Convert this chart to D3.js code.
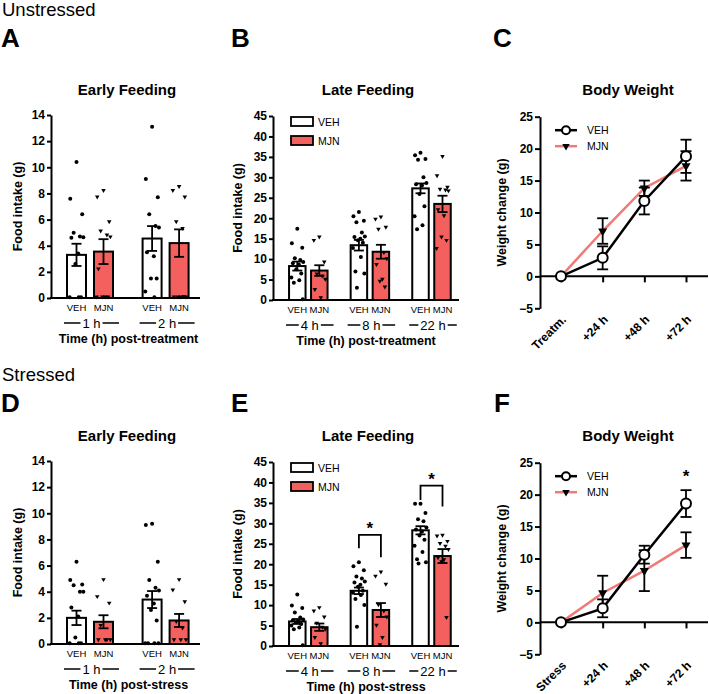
<!DOCTYPE html>
<html><head><meta charset="utf-8">
<script src="https://cdn.jsdelivr.net/npm/d3@7"></script>
<style>body{margin:0;background:#fff} svg{display:block} text{font-family:"Liberation Sans",Arial,sans-serif;fill:#000}</style>
</head><body><svg id="c" width="709" height="694"></svg>
<script>
// ---------- data ----------
const groups = ["VEH", "MJN"];
const earlyTimes = ["1 h", "2 h"];
const lateTimes = ["4 h", "8 h", "22 h"];
const earlyTicks = [0, 2, 4, 6, 8, 10, 12, 14];
const lateTicks = [0, 5, 10, 15, 20, 25, 30, 35, 40, 45];
const weightTicks = [-5, 0, 5, 10, 15, 20, 25];
const weightCatsUnstressed = ["Treatm.", "+24 h", "+48 h", "+72 h"];
const weightCatsStressed = ["Stress", "+24 h", "+48 h", "+72 h"];

// A: unstressed early feeding (VEH 1h, MJN 1h, VEH 2h, MJN 2h)
const aMeans = [3.3, 3.55, 4.55, 4.2];
const aSems = [0.85, 0.95, 0.95, 1.05];
const aDots = [
  [10.4, 7.6, 6.4, 5.0, 4.7, 4.65, 4.6, 3.4, 2.6, 0.05, 0.05, 0.05],
  [8.2, 7.7, 5.8, 5.1, 4.8, 4.65, 2.2, 0.05, 0.05, 0.05, 0.05],
  [13.1, 9.1, 7.7, 6.4, 5.5, 5.4, 3.5, 3.2, 1.5, 1.5, 0.5, 0.05],
  [8.5, 8.2, 7.7, 5.8, 5.3, 0.05, 0.05, 0.05, 0.05, 0.1]
];
// B: unstressed late feeding (VEH/MJN at 4h, 8h, 22h)
const bMeans = [8.3, 7.2, 13.4, 11.8, 27.3, 23.5];
const bSems = [1.1, 1.3, 1.3, 1.7, 1.2, 2.0];
const bDots = [
  [17.4, 13.9, 12.8, 10.2, 9.8, 9.3, 9.0, 8.7, 7.5, 6.5, 5.5, 4.8, 4.2, 0.2],
  [15.3, 14.5, 9.2, 6.3, 5.8, 5.0, 2.5, 0.5],
  [21.5, 20.5, 19.4, 19.0, 16.5, 15.5, 15.4, 15.0, 14.6, 14.0, 12.7, 10.5, 7.0, 6.5, 3.0],
  [20.2, 19.7, 17.7, 17.2, 11.5, 10.0, 8.6, 5.0, 4.5, 3.1],
  [36.0, 35.4, 34.5, 34.3, 30.0, 28.6, 28.3, 28.0, 25.9, 22.9, 20.5, 18.3, 17.3],
  [35.0, 30.3, 27.5, 27.0, 26.8, 26.6, 22.0, 20.5, 15.3, 14.5, 12.5]
];
// C: unstressed body weight
const cVeh = [0, 2.9, 11.8, 18.8];
const cVehSem = [0, 1.8, 2.1, 2.6];
const cMjn = [0, 7.1, 13.8, 17.3];
const cMjnSem = [0, 2.0, 1.2, 2.3];

// D: stressed early feeding
const dMeans = [2.0, 1.7, 3.4, 1.8];
const dSems = [0.55, 0.5, 0.65, 0.5];
const dDots = [
  [6.3, 4.9, 4.55, 4.5, 4.0, 4.0, 2.8, 2.1, 0.5, 0.05, 0.05, 0.05],
  [4.9, 3.6, 3.1, 1.4, 0.3, 0.3, 0.3, 0.3],
  [9.2, 9.1, 6.3, 4.9, 4.3, 4.1, 3.7, 3.1, 2.6, 1.8, 0.05, 0.05, 0.05, 0.05],
  [4.9, 4.1, 3.2, 1.7, 1.2, 0.3, 0.3, 0.3]
];
// E: stressed late feeding
const eMeans = [6.0, 4.6, 13.5, 8.8, 28.3, 22.0];
const eSems = [0.6, 0.9, 0.8, 1.7, 1.0, 1.7];
const eDots = [
  [12.6, 9.9, 9.3, 8.2, 7.0, 6.5, 6.3, 6.0, 5.8, 5.4, 5.0, 4.5, 4.1, 0.2],
  [9.3, 8.5, 7.0, 5.5, 4.5, 4.0, 2.0, 0.5],
  [20.5, 19.5, 18.5, 17.0, 16.5, 15.8, 15.5, 15.0, 14.5, 13.5, 13.0, 12.5, 11.5, 10.0, 4.7],
  [18.0, 17.0, 15.0, 10.0, 8.5, 7.0, 5.0, 2.0, 0.2],
  [34.8, 34.8, 32.5, 31.0, 30.5, 29.0, 28.5, 28.0, 27.0, 26.0, 24.5, 23.0, 21.2, 20.5, 20.2],
  [27.0, 26.8, 25.5, 25.0, 24.3, 23.5, 21.5, 21.0, 20.5, 6.9]
];
// significance brackets in E: [time index, top, left leg end, right leg end]
const eBrackets = [[1, 27.2, 23.9, 21.7], [2, 39.2, 35.7, 34.1]];
// F: stressed body weight
const fVeh = [0, 2.2, 10.6, 18.6];
const fVehSem = [0, 1.4, 1.4, 2.1];
const fMjn = [0, 4.6, 8.1, 12.1];
const fMjnSem = [0, 2.7, 3.2, 2.0];
const fStar = [3, 21.9];

// ---------- drawing ----------
const RED = "#f4605e";
const LINE_RED = "#f07a77";
const svg = d3.select("#c");

function txt(x, y, s, size, weight, anchor) {
  return svg.append("text").attr("x", x).attr("y", y).text(s)
    .style("font-size", size + "px").style("font-weight", weight || "normal")
    .attr("text-anchor", anchor || "start");
}

const jit = [0, -0.55, 0.5, -0.25, 0.3, 0.6, -0.45, 0.15, -0.1, 0.4, -0.6, 0.2, -0.35, 0.55, -0.2];

function barPanel(cfg) {
  const g = svg.append("g");
  const y = d3.scaleLinear().domain([0, cfg.yMax]).range([cfg.yBottom, cfg.yTop]);
  const x = d3.scaleLinear().domain([0, 1]).range([cfg.c0, cfg.c0 + cfg.unit]);
  const slot = i => Math.floor(i / 2) * cfg.gap + (i % 2);
  // bars
  cfg.means.forEach((m, i) => {
    const cx = x(slot(i));
    g.append("rect").attr("x", cx - cfg.barW / 2).attr("y", y(m))
      .attr("width", cfg.barW).attr("height", y(0) - y(m))
      .attr("fill", i % 2 ? RED : "#fff").attr("stroke", "#000").attr("stroke-width", 2);
  });
  // dots
  cfg.dots.forEach((arr, i) => {
    const cx = x(slot(i));
    arr.forEach((v, k) => {
      const px = cx + jit[k % jit.length] * cfg.barW * 0.6;
      if (i % 2 === 0) {
        g.append("circle").attr("cx", px).attr("cy", y(v)).attr("r", 2).attr("fill", "#000");
      } else {
        g.append("path").attr("d", d3.symbol(d3.symbolTriangle, 9)())
          .attr("transform", `translate(${px},${y(v) - 0.5}) rotate(180)`).attr("fill", "#000");
      }
    });
  });
  // error bars
  cfg.means.forEach((m, i) => {
    const cx = x(slot(i)), s = cfg.sems[i];
    g.append("line").attr("x1", cx).attr("x2", cx).attr("y1", y(m + s)).attr("y2", y(m - s))
      .attr("stroke", "#000").attr("stroke-width", 1.8);
    [m + s, m - s].forEach(v => g.append("line").attr("x1", cx - 5).attr("x2", cx + 5)
      .attr("y1", y(v)).attr("y2", y(v)).attr("stroke", "#000").attr("stroke-width", 1.8));
  });
  // axes
  const ax = g.append("g").attr("transform", `translate(${cfg.axisX},0)`)
    .call(d3.axisLeft(y).tickValues(cfg.ticks).tickSize(4).tickSizeOuter(0).tickPadding(2));
  ax.select(".domain").attr("stroke-width", 2);
  ax.selectAll(".tick line").attr("stroke-width", 2);
  ax.selectAll(".tick text").style("font-size", "12px").style("font-weight", "bold")
    .style("font-family", '"Liberation Sans",Arial,sans-serif');
  g.append("line").attr("x1", cfg.axisX - 1).attr("x2", cfg.axisEnd).attr("y1", y(0)).attr("y2", y(0))
    .attr("stroke", "#000").attr("stroke-width", 2);
  // category labels
  cfg.means.forEach((m, i) => {
    txt(x(slot(i)), y(0) + 13, groups[i % 2], 9.5, "normal", "middle");
  });
  cfg.times.forEach((t, j) => {
    const l = x(slot(2 * j)) - cfg.barW / 2 - 3, r = x(slot(2 * j + 1)) + cfg.barW / 2 + 6;
    const c = (l + r) / 2;
    const tt = txt(c, y(0) + 30, t, 13, "normal", "middle");
    const w = tt.node().getComputedTextLength();
    g.append("line").attr("x1", l).attr("x2", c - w / 2 - 2).attr("y1", y(0) + 25).attr("y2", y(0) + 25)
      .attr("stroke", "#000").attr("stroke-width", 1.5);
    g.append("line").attr("x1", c + w / 2 + 2).attr("x2", r).attr("y1", y(0) + 25).attr("y2", y(0) + 25)
      .attr("stroke", "#000").attr("stroke-width", 1.5);
  });
  txt((cfg.axisX + cfg.axisEnd) / 2 + cfg.xtOff, y(0) + 45, cfg.xTitle, 12.5, "bold", "middle");
  txt(cfg.titleX, cfg.titleY, cfg.title, 15, "bold", "middle");
  svg.append("text").attr("transform", `translate(${cfg.ylabX},${(cfg.yTop + cfg.yBottom) / 2}) rotate(-90)`)
    .attr("text-anchor", "middle").style("font-size", "12.5px").style("font-weight", "bold").text("Food intake (g)");
  if (cfg.legend) {
    groups.forEach((gname, i) => {
      const ly = cfg.yTop + 1 + i * 19;
      g.append("rect").attr("x", cfg.axisX + 18).attr("y", ly).attr("width", 22).attr("height", 9)
        .attr("fill", i ? RED : "#fff").attr("stroke", "#000").attr("stroke-width", 1.8);
      txt(cfg.axisX + 45, ly + 9, gname, 10.5, "normal", "start");
    });
  }
  if (cfg.brackets) {
    cfg.brackets.forEach(b => {
      const xl = x(slot(2 * b[0])), xr = x(slot(2 * b[0] + 1));
      g.append("path").attr("d", `M${xl},${y(b[2])}V${y(b[1])}H${xr}V${y(b[3])}`)
        .attr("fill", "none").attr("stroke", "#000").attr("stroke-width", 1.8);
      txt((xl + xr) / 2, y(b[1]) - 1, "*", 17, "bold", "middle");
    });
  }
}

function linePanel(cfg) {
  const g = svg.append("g");
  const y = d3.scaleLinear().domain([-5, 25]).range([cfg.yBottom, cfg.yTop]);
  const x = d3.scalePoint().domain(cfg.cats).range([cfg.x0, cfg.x1]);
  // x axis at 0
  const xa = g.append("g").attr("transform", `translate(0,${y(0)})`)
    .call(d3.axisBottom(x).tickSize(6).tickSizeOuter(0).tickFormat(""));
  xa.select(".domain").remove();
  xa.selectAll(".tick line").attr("stroke-width", 2);
  g.append("line").attr("x1", cfg.axisX).attr("x2", cfg.axisEnd).attr("y1", y(0)).attr("y2", y(0))
    .attr("stroke", "#000").attr("stroke-width", 2);
  const ax = g.append("g").attr("transform", `translate(${cfg.axisX},0)`)
    .call(d3.axisLeft(y).tickValues(weightTicks).tickSize(5).tickSizeOuter(0).tickPadding(2));
  ax.select(".domain").attr("stroke-width", 2);
  ax.selectAll(".tick line").attr("stroke-width", 2);
  ax.selectAll(".tick text").style("font-size", "12px").style("font-weight", "bold")
    .style("font-family", '"Liberation Sans",Arial,sans-serif');
  cfg.cats.forEach(c => {
    svg.append("text").attr("transform", `translate(${x(c) + 3},${y(-5) + 9}) rotate(-45)`)
      .attr("text-anchor", "end").attr("dy", "0.35em").style("font-size", "12px").style("font-weight", "bold").text(c);
  });
  const line = d3.line().x((d, i) => x(cfg.cats[i])).y(d => y(d));
  g.append("path").attr("d", line(cfg.mjn)).attr("fill", "none").attr("stroke", LINE_RED).attr("stroke-width", 2.5);
  g.append("path").attr("d", line(cfg.veh)).attr("fill", "none").attr("stroke", "#000").attr("stroke-width", 2.5);
  const eb = (vals, sems) => vals.forEach((v, i) => {
    if (!sems[i]) return;
    const cx = x(cfg.cats[i]);
    g.append("line").attr("x1", cx).attr("x2", cx).attr("y1", y(v + sems[i])).attr("y2", y(v - sems[i]))
      .attr("stroke", "#000").attr("stroke-width", 1.8);
    [v + sems[i], v - sems[i]].forEach(w => g.append("line").attr("x1", cx - 5.5).attr("x2", cx + 5.5)
      .attr("y1", y(w)).attr("y2", y(w)).attr("stroke", "#000").attr("stroke-width", 1.8));
  });
  eb(cfg.mjn, cfg.mjnSem);
  eb(cfg.veh, cfg.vehSem);
  cfg.mjn.forEach((v, i) => {
    g.append("path").attr("d", d3.symbol(d3.symbolTriangle, 36)())
      .attr("transform", `translate(${x(cfg.cats[i])},${y(v)}) rotate(180)`).attr("fill", "#000");
  });
  cfg.veh.forEach((v, i) => {
    g.append("circle").attr("cx", x(cfg.cats[i])).attr("cy", y(v)).attr("r", 5)
      .attr("fill", "#fff").attr("stroke", "#000").attr("stroke-width", 2);
  });
  // legend
  const lx = cfg.axisX + 15;
  [["VEH", "#000"], ["MJN", LINE_RED]].forEach((d, i) => {
    const ly = cfg.yTop + 13.5 + i * 16;
    g.append("line").attr("x1", lx).attr("x2", lx + 22).attr("y1", ly).attr("y2", ly)
      .attr("stroke", d[1]).attr("stroke-width", 2.5);
    if (i === 0) g.append("circle").attr("cx", lx + 11).attr("cy", ly).attr("r", 4)
      .attr("fill", "#fff").attr("stroke", "#000").attr("stroke-width", 2);
    else g.append("path").attr("d", d3.symbol(d3.symbolTriangle, 24)())
      .attr("transform", `translate(${lx + 11},${ly}) rotate(180)`).attr("fill", "#000");
    txt(lx + 32, ly + 4, d[0], 10.5, "normal", "start");
  });
  if (cfg.star) txt(x(cfg.cats[cfg.star[0]]), y(cfg.star[1]), "*", 17, "bold", "middle");
  txt(cfg.titleX, cfg.titleY, "Body Weight", 15, "bold", "middle");
  svg.append("text").attr("transform", `translate(${cfg.ylabX},${(cfg.yTop + cfg.yBottom) / 2}) rotate(-90)`)
    .attr("text-anchor", "middle").style("font-size", "12.5px").style("font-weight", "bold").text("Weight change (g)");
}

// headers
txt(2, 16, "Unstressed", 18.5, "normal");
txt(2, 381, "Stressed", 18.5, "normal");
txt(1, 47, "A", 26, "bold"); txt(231, 47, "B", 26, "bold"); txt(493, 47, "C", 26, "bold");
txt(1, 412, "D", 26, "bold"); txt(231, 412, "E", 26, "bold"); txt(494, 412, "F", 26, "bold");

const DY = 346;
barPanel({yMax: 14, ticks: earlyTicks, yTop: 115, yBottom: 298, axisX: 51, axisEnd: 200,
  c0: 76.5, unit: 27, gap: 2.8, barW: 19, means: aMeans, sems: aSems, dots: aDots, times: earlyTimes,
  title: "Early Feeding", titleX: 127, titleY: 95, xTitle: "Time (h) post-treatment", xtOff: 3, ylabX: 22});
barPanel({yMax: 45, ticks: lateTicks, yTop: 116, yBottom: 300, axisX: 273, axisEnd: 459,
  c0: 297.3, unit: 22, gap: 2.8, barW: 16.5, means: bMeans, sems: bSems, dots: bDots, times: lateTimes,
  title: "Late Feeding", titleX: 368, titleY: 95, xTitle: "Time (h) post-treatment", xtOff: 0, ylabX: 242, legend: true});
linePanel({yTop: 116.7, yBottom: 308.3, axisX: 540, axisEnd: 708, x0: 561, x1: 686, cats: weightCatsUnstressed,
  veh: cVeh, vehSem: cVehSem, mjn: cMjn, mjnSem: cMjnSem, titleX: 628, titleY: 95, ylabX: 506});

barPanel({yMax: 14, ticks: earlyTicks, yTop: 115 + DY, yBottom: 298 + DY, axisX: 51, axisEnd: 200,
  c0: 76.5, unit: 27, gap: 2.8, barW: 19, means: dMeans, sems: dSems, dots: dDots, times: earlyTimes,
  title: "Early Feeding", titleX: 127, titleY: 441, xTitle: "Time (h) post-stress", xtOff: 3, ylabX: 22});
barPanel({yMax: 45, ticks: lateTicks, yTop: 116 + DY, yBottom: 300 + DY, axisX: 273, axisEnd: 459,
  c0: 297.3, unit: 22, gap: 2.8, barW: 16.5, means: eMeans, sems: eSems, dots: eDots, times: lateTimes,
  title: "Late Feeding", titleX: 368, titleY: 441, xTitle: "Time (h) post-stress", xtOff: 0, ylabX: 242,
  legend: true, brackets: eBrackets});
linePanel({yTop: 116.7 + DY, yBottom: 308.3 + DY, axisX: 540, axisEnd: 708, x0: 561, x1: 686, cats: weightCatsStressed,
  veh: fVeh, vehSem: fVehSem, mjn: fMjn, mjnSem: fMjnSem, titleX: 628, titleY: 441, ylabX: 506, star: fStar});
</script></body></html>
